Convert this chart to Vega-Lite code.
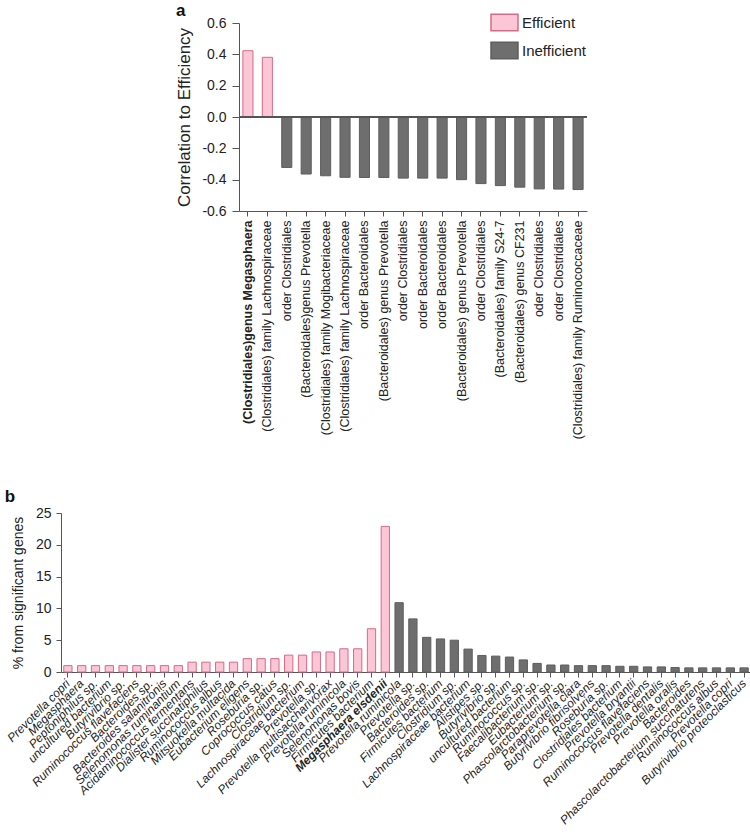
{
  "$schema": "https://vega.github.io/schema/vega-lite/v6.json",
  "padding": {"left": 4, "right": 0, "top": 2, "bottom": 0},
  "config": {
    "font": "Liberation Sans",
    "view": {"stroke": null},
    "axis": {"domainColor": "#555", "tickColor": "#555", "labelColor": "#222", "titleColor": "#222", "grid": false, "titleFontWeight": "normal", "tickSize": 5, "labelLimit": 0, "labelOverlap": false}
  },
  "spacing": 49,
  "resolve": {"scale": {"fill": "independent", "stroke": "independent"}},
  "vconcat": [
    {
      "spacing": 20,
      "resolve": {"scale": {"fill": "independent", "stroke": "independent"}, "legend": {"fill": "independent", "stroke": "independent"}},
      "hconcat": [
        {
          "width": 94,
          "height": 10,
          "data": {"values": []},
          "mark": {"type": "point", "opacity": 0}
        },
        {
          "title": {"text": "a", "anchor": "start", "frame": "bounds", "fontSize": 17, "fontWeight": "bold", "color": "#111", "offset": -7},
          "width": 348,
          "height": 188,
          "data": {"values": [
            {"key": "(Clostridiales)genus Megasphaera|1", "value": 0.423, "type": "Efficient"},
            {"key": "(Clostridiales) family Lachnospiraceae|2", "value": 0.381, "type": "Efficient"},
            {"key": "order Clostridiales|3", "value": -0.322, "type": "Inefficient"},
            {"key": "(Bacteroidales)genus Prevotella|4", "value": -0.364, "type": "Inefficient"},
            {"key": "(Clostridiales) family Mogibacteriaceae|5", "value": -0.375, "type": "Inefficient"},
            {"key": "(Clostridiales) family Lachnospiraceae|6", "value": -0.385, "type": "Inefficient"},
            {"key": "order Bacteroidales|7", "value": -0.386, "type": "Inefficient"},
            {"key": "(Bacteroidales) genus Prevotella|8", "value": -0.386, "type": "Inefficient"},
            {"key": "order Clostridiales|9", "value": -0.39, "type": "Inefficient"},
            {"key": "order Bacteroidales|10", "value": -0.39, "type": "Inefficient"},
            {"key": "order Bacteroidales|11", "value": -0.39, "type": "Inefficient"},
            {"key": "(Bacteroidales) genus Prevotella|12", "value": -0.40, "type": "Inefficient"},
            {"key": "order Clostridiales|13", "value": -0.425, "type": "Inefficient"},
            {"key": "(Bacteroidales) family S24-7|14", "value": -0.438, "type": "Inefficient"},
            {"key": "(Bacteroidales) genus CF231|15", "value": -0.448, "type": "Inefficient"},
            {"key": "oder Clostridiales|16", "value": -0.459, "type": "Inefficient"},
            {"key": "order Clostridiales|17", "value": -0.46, "type": "Inefficient"},
            {"key": "(Clostridiales) family Ruminococcaceae|18", "value": -0.463, "type": "Inefficient"}
          ]},
          "layer": [
            {
              "mark": {"type": "bar", "strokeWidth": 1},
              "encoding": {
                "x": {
                  "field": "key", "type": "nominal", "sort": null, "title": null,
                  "scale": {"paddingInner": 0.48, "paddingOuter": 0.2},
                  "axis": {
                    "orient": "bottom",
                    "labelExpr": "split(datum.value, '|')[0]",
                    "labelAngle": -90, "labelAlign": "right", "labelBaseline": "middle",
                    "labelFontSize": 12.5, "labelPadding": 4,
                    "labelFontWeight": {"condition": {"test": "datum.value == '(Clostridiales)genus Megasphaera|1'", "value": "bold"}, "value": "normal"}
                  }
                },
                "y": {
                  "field": "value", "type": "quantitative",
                  "scale": {"domain": [-0.6, 0.6], "nice": false},
                  "axis": {"values": [-0.6, -0.4, -0.2, 0, 0.2, 0.4, 0.6], "labelExpr": "replace(format(datum.value, '.1f'), '\u2212', '-')", "labelFontSize": 14, "tickSize": 7, "labelPadding": 6, "title": "Correlation to Efficiency", "titleFontSize": 17, "titlePadding": 8}
                },
                "fill": {
                  "field": "type", "type": "nominal",
                  "scale": {"domain": ["Efficient", "Inefficient"], "range": ["#fbc7d6", "#6e6e6e"]},
                  "legend": {
                    "title": null, "orient": "none", "legendX": 256, "legendY": -10,
                    "symbolType": "M-1.55,-0.95H1.55V0.95H-1.55Z", "symbolSize": 303,
                    "labelFontSize": 15, "labelColor": "#222", "rowPadding": 5, "labelOffset": 8
                  }
                },
                "stroke": {
                  "field": "type", "type": "nominal",
                  "scale": {"domain": ["Efficient", "Inefficient"], "range": ["#d46b87", "#5e5e5e"]},
                  "legend": {
                    "title": null, "orient": "none", "legendX": 256, "legendY": -10,
                    "symbolType": "M-1.55,-0.95H1.55V0.95H-1.55Z", "symbolSize": 303,
                    "labelFontSize": 15, "labelColor": "#222", "rowPadding": 5, "labelOffset": 8
                  }
                }
              }
            },
            {
              "mark": {"type": "rule", "color": "#555", "strokeWidth": 1.2},
              "encoding": {
                "y": {
                  "datum": 0, "type": "quantitative",
                  "scale": {"domain": [-0.6, 0.6], "nice": false},
                  "axis": {"values": [-0.6, -0.4, -0.2, 0, 0.2, 0.4, 0.6], "labelExpr": "replace(format(datum.value, '.1f'), '\u2212', '-')", "labelFontSize": 14, "tickSize": 7, "labelPadding": 6, "title": "Correlation to Efficiency", "titleFontSize": 17, "titlePadding": 8}
                }
              }
            }
          ]
        }
      ]
    },
    {
      "title": {"text": "b", "anchor": "start", "frame": "bounds", "fontSize": 17, "fontWeight": "bold", "color": "#111", "offset": 0},
      "width": 690,
      "height": 159,
      "data": {"values": [
        {"key": "Prevotella copri|1", "value": 1.0, "type": "Efficient"},
        {"key": "Megasphaera|2", "value": 1.0, "type": "Efficient"},
        {"key": "Peptoniphilus sp.|3", "value": 1.0, "type": "Efficient"},
        {"key": "uncultured bacterium|4", "value": 1.0, "type": "Efficient"},
        {"key": "Butyrivibrio sp.|5", "value": 1.0, "type": "Efficient"},
        {"key": "Ruminococcus flavefaciens|6", "value": 1.0, "type": "Efficient"},
        {"key": "Bacteroides sp.|7", "value": 1.0, "type": "Efficient"},
        {"key": "Bacteroides salanitronis|8", "value": 1.0, "type": "Efficient"},
        {"key": "Selenomonas ruminantium|9", "value": 1.0, "type": "Efficient"},
        {"key": "Acidaminococcus fermentans|10", "value": 1.55, "type": "Efficient"},
        {"key": "Dialister succinatiphilus|11", "value": 1.55, "type": "Efficient"},
        {"key": "Ruminococcus albus|12", "value": 1.55, "type": "Efficient"},
        {"key": "Mitsuokella multacida|13", "value": 1.55, "type": "Efficient"},
        {"key": "Eubacterium eligens|14", "value": 2.1, "type": "Efficient"},
        {"key": "Roseburia sp.|15", "value": 2.1, "type": "Efficient"},
        {"key": "Coprococcus catus|16", "value": 2.1, "type": "Efficient"},
        {"key": "Clostridium sp.|17", "value": 2.65, "type": "Efficient"},
        {"key": "Lachnospiraceae bacterium|18", "value": 2.65, "type": "Efficient"},
        {"key": "Prevotella sp.|19", "value": 3.15, "type": "Efficient"},
        {"key": "Prevotella multisaccharivorax|20", "value": 3.15, "type": "Efficient"},
        {"key": "Prevotella ruminicola|21", "value": 3.65, "type": "Efficient"},
        {"key": "Selenomonas bovis|22", "value": 3.65, "type": "Efficient"},
        {"key": "Firmicutes bacterium|23", "value": 6.8, "type": "Efficient"},
        {"key": "Megasphaera elsdenii|24", "value": 22.9, "type": "Efficient"},
        {"key": "Prevotella ruminicola|25", "value": 10.9, "type": "Inefficient"},
        {"key": "Prevotella sp.|26", "value": 8.35, "type": "Inefficient"},
        {"key": "Bacteroides sp.|27", "value": 5.45, "type": "Inefficient"},
        {"key": "Firmicutes bacterium|28", "value": 5.2, "type": "Inefficient"},
        {"key": "Clostridium sp.|29", "value": 5.0, "type": "Inefficient"},
        {"key": "Lachnospiraceae bacterium|30", "value": 3.6, "type": "Inefficient"},
        {"key": "Alistipes sp.|31", "value": 2.6, "type": "Inefficient"},
        {"key": "Butyrivibrio sp.|32", "value": 2.5, "type": "Inefficient"},
        {"key": "uncultured bacterium|33", "value": 2.35, "type": "Inefficient"},
        {"key": "Ruminococcus sp.|34", "value": 1.9, "type": "Inefficient"},
        {"key": "Faecalibacterium sp.|35", "value": 1.35, "type": "Inefficient"},
        {"key": "Eubacterium sp.|36", "value": 1.1, "type": "Inefficient"},
        {"key": "Phascolarctobacterium sp.|37", "value": 1.1, "type": "Inefficient"},
        {"key": "Paraprevotella clara|38", "value": 1.0, "type": "Inefficient"},
        {"key": "Butyrivibrio fibrisolvens|39", "value": 1.0, "type": "Inefficient"},
        {"key": "Roseburia sp.|40", "value": 1.0, "type": "Inefficient"},
        {"key": "Clostridiales bacterium|41", "value": 0.9, "type": "Inefficient"},
        {"key": "Prevotella bryantii|42", "value": 0.9, "type": "Inefficient"},
        {"key": "Ruminococcus flavefaciens|43", "value": 0.8, "type": "Inefficient"},
        {"key": "Prevotella dentalis|44", "value": 0.8, "type": "Inefficient"},
        {"key": "Prevotella oralis|45", "value": 0.7, "type": "Inefficient"},
        {"key": "Bacteroides|46", "value": 0.65, "type": "Inefficient"},
        {"key": "Phascolarctobacterium succinatutens|47", "value": 0.65, "type": "Inefficient"},
        {"key": "Ruminococcus albus|48", "value": 0.65, "type": "Inefficient"},
        {"key": "Prevotella copri|49", "value": 0.65, "type": "Inefficient"},
        {"key": "Butyrivibrio proteoclasticus|50", "value": 0.65, "type": "Inefficient"}
      ]},
      "mark": {"type": "bar", "strokeWidth": 1},
      "encoding": {
        "x": {
          "field": "key", "type": "nominal", "sort": null, "title": null,
          "scale": {"paddingInner": 0.4, "paddingOuter": 0.2},
          "axis": {
            "labelExpr": "split(datum.value, '|')[0]",
            "labelAngle": -45, "labelAlign": "right", "labelBaseline": "middle",
            "labelFontSize": 12, "labelFontStyle": "italic", "labelPadding": 4,
            "labelFontWeight": {"condition": {"test": "datum.value == 'Megasphaera elsdenii|24'", "value": "bold"}, "value": "normal"}
          }
        },
        "y": {
          "field": "value", "type": "quantitative",
          "scale": {"domain": [0, 25], "nice": false},
          "axis": {"values": [0, 5, 10, 15, 20, 25], "labelFontSize": 14, "labelPadding": 5, "title": "% from significant genes", "titleFontSize": 14, "titlePadding": 10}
        },
        "fill": {
          "field": "type", "type": "nominal",
          "scale": {"domain": ["Efficient", "Inefficient"], "range": ["#fbc7d6", "#6e6e6e"]},
          "legend": null
        },
        "stroke": {
          "field": "type", "type": "nominal",
          "scale": {"domain": ["Efficient", "Inefficient"], "range": ["#d46b87", "#5e5e5e"]},
          "legend": null
        }
      }
    }
  ]
}
